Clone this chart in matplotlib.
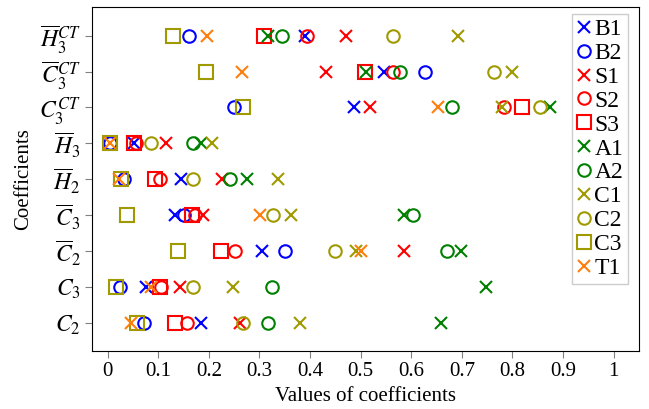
import matplotlib
matplotlib.use('Agg')
import matplotlib.pyplot as plt
import numpy as np

plt.rcParams['font.family'] = ['Liberation Serif', 'DejaVu Serif']
plt.rcParams['mathtext.fontset'] = 'stix'

# rows, bottom to top
coeffs = [r'$C_2$', r'$C_3$', r'$\overline{C}_2$', r'$\overline{C}_3$',
          r'$\overline{H}_2$', r'$\overline{H}_3$', r'$C_3^{CT}$',
          r'$\overline{C}_3^{CT}$', r'$\overline{H}_3^{CT}$']

B1 = [0.184, 0.076, 0.306, 0.134, 0.145, 0.053, 0.486, 0.547, 0.390]
B2 = [0.071, 0.024, 0.350, 0.150, 0.032, 0.005, 0.250, 0.627, 0.161]
S1 = [0.261, 0.143, 0.585, 0.188, 0.225, 0.116, 0.518, 0.432, 0.471]
S2 = [0.156, 0.106, 0.252, 0.173, 0.104, 0.056, 0.784, 0.564, 0.394]
S3 = [0.134, 0.104, 0.224, 0.167, 0.094, 0.053, 0.818, 0.508, 0.309]
A1 = [0.658, 0.747, 0.698, 0.585, 0.276, 0.184, 0.874, 0.511, 0.317]
A2 = [0.317, 0.324, 0.671, 0.604, 0.242, 0.169, 0.681, 0.577, 0.344]
C1 = [0.381, 0.247, 0.490, 0.362, 0.337, 0.206, 0.780, 0.799, 0.692]
C2 = [0.268, 0.168, 0.450, 0.327, 0.169, 0.085, 0.854, 0.764, 0.563]
C3 = [0.058, 0.017, 0.139, 0.038, 0.026, 0.004, 0.268, 0.194, 0.130]
T1 = [0.047, 0.085, 0.501, 0.301, 0.022, 0.005, 0.652, 0.265, 0.196]

blue, red, green, olive, orange = '#0000ff', '#ff0000', '#008000', '#a09a00', '#ff7f0e'
series = [('B1', B1, 'x', blue), ('B2', B2, 'o', blue),
          ('S1', S1, 'x', red), ('S2', S2, 'o', red), ('S3', S3, 's', red),
          ('A1', A1, 'x', green), ('A2', A2, 'o', green),
          ('C1', C1, 'x', olive), ('C2', C2, 'o', olive), ('C3', C3, 's', olive),
          ('T1', T1, 'x', orange)]
msize = {'x': 9, 'o': 9, 's': 10.5}

fig = plt.figure(figsize=(6.49, 4.09), dpi=100)
ax = fig.add_axes([0.1425, 0.143, 0.842, 0.84])

ypos = np.arange(len(coeffs))
for name, vals, mk, col in series:
    ax.plot(vals, ypos, linestyle='none', marker=mk, markersize=msize[mk],
            markerfacecolor='none', markeredgecolor=col, markeredgewidth=1.5,
            label=name)

ax.set_xlim(-0.03, 1.05)
ax.set_ylim(-0.78, 8.8)
ax.set_xticks(np.arange(0, 1.01, 0.1))
ax.set_xticklabels(['0'] + ['%.1f' % v for v in np.arange(0.1, 0.95, 0.1)] + ['1'])
ax.set_yticks(ypos)
ax.set_yticklabels(coeffs, fontsize=17)
ax.tick_params(axis='x', labelsize=15, color='gray', length=5)
ax.tick_params(axis='y', color='gray', length=5)
ax.set_xlabel('Values of coefficients', fontsize=15, labelpad=4)
ax.set_ylabel('Coefficients', fontsize=15, labelpad=4)

leg = ax.legend(loc='upper right', bbox_to_anchor=(0.98, 0.98), fontsize=17,
                handlelength=0.65, handletextpad=0.12, borderpad=0.2,
                labelspacing=0.1, fancybox=False, framealpha=1, borderaxespad=0)
leg.get_frame().set_edgecolor('#cccccc')

fig.savefig('out.png', dpi=100)
